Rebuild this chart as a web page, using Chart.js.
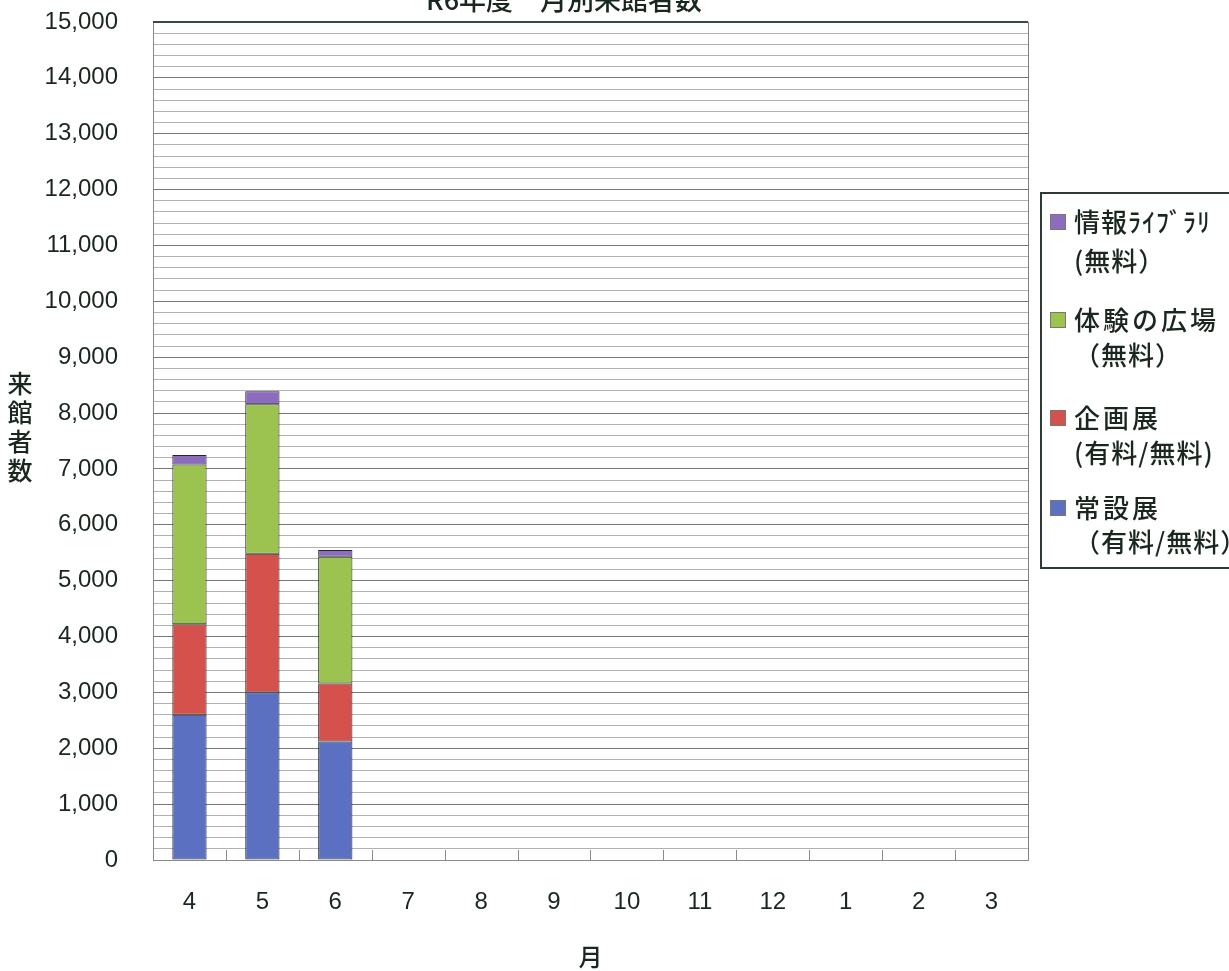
<!DOCTYPE html>
<html lang="ja">
<head>
<meta charset="utf-8">
<title>月別来館者数</title>
<script src="https://cdn.jsdelivr.net/npm/chart.js@4/dist/chart.umd.min.js"></script>
<style>
  html, body { margin: 0; padding: 0; background: #fff; overflow: hidden; }
  #visitorChart { display: block; }
</style>
</head>
<body>
<canvas id="visitorChart" width="1229" height="971"></canvas>
<script>
// 月（年度順）
const months = ['4', '5', '6', '7', '8', '9', '10', '11', '12', '1', '2', '3'];

// 区分ごとの来館者数（7月以降は未集計）
const permanentExhibit = [2600, 3000, 2120, null, null, null, null, null, null, null, null, null];
const specialExhibit   = [1620, 2480, 1040, null, null, null, null, null, null, null, null, null];
const experienceArea   = [2860, 2680, 2270, null, null, null, null, null, null, null, null, null];
const infoLibrary      = [170, 230, 120, null, null, null, null, null, null, null, null, null];

// 凡例の表示文字列（2行）
const legendLines = {
    info: ['情報ﾗｲﾌﾞﾗﾘ', '(無料）'],
    experience: ['体験の広場', '（無料）'],
    special: ['企画展', '(有料/無料)'],
    permanent: ['常設展', '（有料/無料）']
};

const TEXT_COLOR = '#1a271f';
const NUM_FONT = '"Liberation Sans", Arial, sans-serif';
const JP_FONT = '"Noto Sans CJK JP", "Noto Sans", sans-serif';

// タイトル・縦書きの軸名・凡例・枠線を描くプラグイン
const decorations = {
    id: 'decorations',
    afterDraw(chart) {
        const { ctx, chartArea: area, scales } = chart;
        ctx.save();

        // 枠線（上辺は太め）
        ctx.strokeStyle = '#808080';
        ctx.lineWidth = 1;
        ctx.beginPath();
        ctx.moveTo(area.right + 0.5, area.top);
        ctx.lineTo(area.right + 0.5, area.bottom);
        ctx.stroke();
        ctx.strokeStyle = '#3b4a40';
        ctx.lineWidth = 2;
        ctx.beginPath();
        ctx.moveTo(area.left, area.top);
        ctx.lineTo(area.right, area.top);
        ctx.stroke();

        // 月の区切り目盛り（内向き）
        const x = scales.x;
        const step = (x.right - x.left) / months.length;
        ctx.strokeStyle = '#8a8a8a';
        ctx.lineWidth = 1;
        for (let i = 1; i < months.length; i++) {
            const px = Math.round(x.getPixelForValue(i) - step / 2) + 0.5;
            ctx.beginPath();
            ctx.moveTo(px, area.bottom - 10);
            ctx.lineTo(px, area.bottom);
            ctx.stroke();
        }

        // タイトル
        ctx.fillStyle = TEXT_COLOR;
        ctx.font = '500 27px ' + JP_FONT;
        ctx.textAlign = 'center';
        ctx.textBaseline = 'alphabetic';
        ctx.fillText('R6年度　月別来館者数', 564, 10);

        // 縦軸名（縦書き）
        ctx.font = '500 25px ' + JP_FONT;
        ctx.textBaseline = 'middle';
        ['来', '館', '者', '数'].forEach((ch, i) => ctx.fillText(ch, 20, 383 + i * 29));

        // 凡例
        ctx.strokeStyle = '#2e3b33';
        ctx.lineWidth = 2;
        ctx.strokeRect(1041, 193, 220, 375);
        const items = [
            { ds: 3, lines: legendLines.info, y: 222, gap: 39, spacing: '1px' },
            { ds: 2, lines: legendLines.experience, y: 320, gap: 35, spacing: '3px' },
            { ds: 1, lines: legendLines.special, y: 418, gap: 35, spacing: '3px' },
            { ds: 0, lines: legendLines.permanent, y: 508, gap: 34, spacing: '3px' }
        ];
        ctx.font = '500 26px ' + JP_FONT;
        ctx.textAlign = 'left';
        items.forEach(item => {
            const ds = chart.data.datasets[item.ds];
            ctx.fillStyle = ds.backgroundColor;
            ctx.fillRect(1050, item.y - 8, 16, 16);
            ctx.strokeStyle = '#777';
            ctx.lineWidth = 1;
            ctx.strokeRect(1050.5, item.y - 7.5, 15, 15);
            ctx.fillStyle = TEXT_COLOR;
            ctx.letterSpacing = item.spacing;
            ctx.fillText(item.lines[0], 1074, item.y);
            ctx.letterSpacing = '1px';
            ctx.fillText(item.lines[1], 1074, item.y + item.gap);
        });

        ctx.restore();
    }
};

const chart = new Chart(document.getElementById('visitorChart').getContext('2d'), {
    type: 'bar',
    data: {
        labels: months,
        datasets: [
            { label: '常設展', data: permanentExhibit, backgroundColor: '#5c70c2' },
            { label: '企画展', data: specialExhibit, backgroundColor: '#d4524b' },
            { label: '体験の広場', data: experienceArea, backgroundColor: '#9cc250' },
            { label: '情報ライブラリ', data: infoLibrary, backgroundColor: '#8b6cbe' }
        ].map(ds => Object.assign(ds, {
            borderColor: '#22272a',
            borderWidth: 1,
            borderSkipped: false,
            categoryPercentage: 1,
            barPercentage: 0.47
        }))
    },
    options: {
        responsive: false,
        animation: false,
        layout: { padding: { top: 22, right: 201, left: 0, bottom: 0 } },
        plugins: {
            legend: { display: false },
            title: { display: false },
            tooltip: { enabled: false }
        },
        scales: {
            x: {
                stacked: true,
                offset: true,
                grid: { display: false },
                border: { color: '#8a8a8a', width: 1 },
                ticks: { color: TEXT_COLOR, font: { family: NUM_FONT, size: 24 }, padding: 20, maxRotation: 0 },
                title: { display: true, text: '月', color: TEXT_COLOR, font: { family: JP_FONT, size: 24, weight: '500' }, padding: 0 },
                afterFit: scale => {
                    scale.height = 111;
                    scale.paddingLeft = 0;
                    scale.paddingRight = 0;
                }
            },
            y: {
                stacked: true,
                min: 0,
                max: 15000,
                grid: {
                    drawTicks: false,
                    lineWidth: 1,
                    color: c => (c.tick.value % 1000 === 0 ? '#767676' : '#b2b2b2')
                },
                border: { color: '#8a8a8a', width: 1 },
                ticks: {
                    stepSize: 200,
                    autoSkip: false,
                    padding: 35,
                    color: TEXT_COLOR,
                    font: { family: NUM_FONT, size: 24 },
                    callback: v => (v % 1000 === 0 ? v.toLocaleString('en-US') : '')
                },
                afterFit: scale => {
                    scale.width = 153;
                    scale.paddingTop = 0;
                    scale.paddingBottom = 0;
                }
            }
        }
    },
    plugins: [decorations]
});
</script>
</body>
</html>
